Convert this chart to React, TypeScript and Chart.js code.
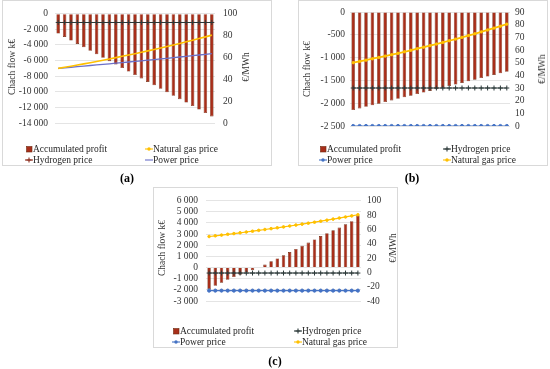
import React, { useEffect, useRef } from 'react';
import { Chart, registerables } from 'chart.js';

Chart.register(...registerables);

// ---------- data ----------
const years = ['2026', '2027', '2028', '2029', '2030', '2031', '2032', '2033', '2034', '2035', '2036', '2037', '2038', '2039', '2040', '2041', '2042', '2043', '2044', '2045', '2046', '2047', '2048', '2049', '2050'];

const profitA = [-2540, -2980, -3430, -3870, -4310, -4750, -5200, -5640, -6080, -6520, -6970, -7410, -7850, -8290, -8740, -9180, -9620, -10060, -10510, -10950, -11390, -11830, -12280, -12720, -13160];
const gasA = [50, 51, 52, 53.1, 54.1, 55.2, 56.3, 57.4, 58.6, 59.8, 61, 62.2, 63.4, 64.7, 66, 67.3, 68.6, 70, 71.4, 72.8, 74.3, 75.8, 77.3, 78.8, 80.4];
const hydrogenA = [92, 92, 92, 92, 92, 92, 92, 92, 92, 92, 92, 92, 92, 92, 92, 92, 92, 92, 92, 92, 92, 92, 92, 92, 92];
const powerA = [50, 50.5, 51, 51.5, 52, 52.6, 53.1, 53.6, 54.1, 54.7, 55.2, 55.8, 56.3, 56.9, 57.5, 58, 58.6, 59.2, 59.8, 60.4, 61, 61.6, 62.2, 62.8, 63.5];

const profitB = [-2150, -2115, -2080, -2045, -2010, -1975, -1940, -1905, -1870, -1835, -1800, -1765, -1730, -1695, -1660, -1625, -1590, -1555, -1520, -1485, -1450, -1415, -1380, -1345, -1310];
const hydrogenB = [30, 30, 30, 30, 30, 30, 30, 30, 30, 30, 30, 30, 30, 30, 30, 30, 30, 30, 30, 30, 30, 30, 30, 30, 30];
const powerB = [0, 0, 0, 0, 0, 0, 0, 0, 0, 0, 0, 0, 0, 0, 0, 0, 0, 0, 0, 0, 0, 0, 0, 0, 0];
const gasB = [50, 51, 52, 53.1, 54.1, 55.2, 56.3, 57.4, 58.6, 59.8, 61, 62.2, 63.4, 64.7, 66, 67.3, 68.6, 70, 71.4, 72.8, 74.3, 75.8, 77.3, 78.8, 80.4];

const profitC = [-1920, -1640, -1360, -1100, -850, -640, -440, -230, -30, 270, 560, 820, 1100, 1390, 1670, 1950, 2240, 2520, 2830, 3090, 3340, 3590, 3880, 4160, 4700];
const hydrogenC = [-1, -1, -1, -1, -1, -1, -1, -1, -1, -1, -1, -1, -1, -1, -1, -1, -1, -1, -1, -1, -1, -1, -1, -1, -1];
const powerC = [-25.5, -25.5, -25.5, -25.5, -25.5, -25.5, -25.5, -25.5, -25.5, -25.5, -25.5, -25.5, -25.5, -25.5, -25.5, -25.5, -25.5, -25.5, -25.5, -25.5, -25.5, -25.5, -25.5, -25.5, -25.5];
const gasC = [50, 51, 52, 53.1, 54.1, 55.2, 56.3, 57.4, 58.6, 59.8, 61, 62.2, 63.4, 64.7, 66, 67.3, 68.6, 70, 71.4, 72.8, 74.3, 75.8, 77.3, 78.8, 80.4];

// ---------- styles ----------
const FONT = "'Liberation Serif', 'Times New Roman', serif";
const BAR_FILL = '#A82E1A';
const BAR_EDGE = '#6E2A10';
const GAS = '#FFC000';
const H2 = '#2B3838';
const POWER = '#4472C4';
const POWER_A = '#6B70C9';
const TICK = '#333333';

function fmt(v: number): string {
  const s = Math.abs(Math.round(v)).toString().replace(/\B(?=(\d{3})+(?!\d))/g, ' ');
  return (v < 0 ? '-' : '') + s;
}

type PanelGeom = {
  left: number; top: number; w: number; h: number;
  plotLeft: number; plotRight: number; plotTop: number; plotBottom: number;
  yMin: number; yMax: number; yStep: number;
  y1Min: number; y1Max: number; y1Step: number;
  padL: number; padR: number;
};

const geomA: PanelGeom = { left: 2, top: 0, w: 270, h: 166, plotLeft: 53, plotRight: 213, plotTop: 12, plotBottom: 123, yMin: -14000, yMax: 0, yStep: 2000, y1Min: 0, y1Max: 100, y1Step: 20, padL: 7, padR: 8 };
const geomB: PanelGeom = { left: 298, top: 0, w: 250, h: 166, plotLeft: 52, plotRight: 212, plotTop: 12, plotBottom: 126, yMin: -2500, yMax: 0, yStep: 500, y1Min: 0, y1Max: 90, y1Step: 10, padL: 5, padR: 5 };
const geomC: PanelGeom = { left: 153, top: 187, w: 245, h: 161, plotLeft: 53, plotRight: 208, plotTop: 8, plotBottom: 114, yMin: -3000, yMax: 6000, yStep: 1000, y1Min: -40, y1Max: 100, y1Step: 20, padL: 8, padR: 6 };

function barSet(data: number[]) {
  return { type: 'bar' as const, label: 'Accumulated profit', data, yAxisID: 'y', backgroundColor: BAR_FILL, borderColor: BAR_EDGE, borderWidth: 0.6, barPercentage: 0.55, categoryPercentage: 1, order: 3 };
}
function lineSet(label: string, data: number[], color: string, style: string, radius: number, width: number) {
  return {
    type: 'line' as const, label, data, yAxisID: 'y1', borderColor: color, backgroundColor: color,
    borderWidth: width, pointStyle: style, pointRadius: radius, pointBorderWidth: 1,
    pointBorderColor: color, pointBackgroundColor: color, order: 1, tension: 0,
  };
}

function build(canvas: HTMLCanvasElement, g: PanelGeom, datasets: any[]) {
  const tickFont = { family: FONT, size: 9.5 };
  return new Chart(canvas, {
    type: 'bar',
    data: { labels: years, datasets },
    options: {
      animation: false,
      responsive: false,
      maintainAspectRatio: false,
      devicePixelRatio: 1,
      layout: { padding: { left: 0, right: 0, top: g.plotTop, bottom: g.h - g.plotBottom } },
      plugins: { legend: { display: false }, tooltip: { enabled: false } },
      scales: {
        x: { display: false, offset: true, grid: { display: false } },
        y: {
          position: 'left', min: g.yMin, max: g.yMax,
          ticks: { stepSize: g.yStep, autoSkip: false, callback: (v: any) => fmt(Number(v)), font: tickFont, color: TICK, padding: g.padL },
          grid: { color: '#E4E4E4', drawTicks: false, lineWidth: 1 },
          border: { display: false },
          afterFit: (s: any) => { s.width = g.plotLeft; },
        },
        y1: {
          position: 'right', min: g.y1Min, max: g.y1Max,
          ticks: { stepSize: g.y1Step, autoSkip: false, callback: (v: any) => fmt(Number(v)), font: tickFont, color: TICK, padding: g.padR },
          grid: { display: false, drawTicks: false },
          border: { display: false },
          afterFit: (s: any) => { s.width = g.w - g.plotRight; },
        },
      },
    } as any,
  });
}

type LegItem = { x: number; y: number; kind: 'box' | 'line' | 'cross' | 'dot'; color: string; text: string };

const legendA: LegItem[] = [
  { x: 25, y: 149, kind: 'box', color: BAR_FILL, text: 'Accumulated profit' },
  { x: 145, y: 149, kind: 'dot', color: GAS, text: 'Natural gas price' },
  { x: 25, y: 160, kind: 'cross', color: '#8B2A1A', text: 'Hydrogen price' },
  { x: 145, y: 160, kind: 'line', color: POWER_A, text: 'Power price' },
];
const legendB: LegItem[] = [
  { x: 319, y: 148.5, kind: 'box', color: BAR_FILL, text: 'Accumulated profit' },
  { x: 443, y: 148.5, kind: 'cross', color: H2, text: 'Hydrogen price' },
  { x: 319, y: 159.5, kind: 'dot', color: POWER, text: 'Power price' },
  { x: 443, y: 159.5, kind: 'dot', color: GAS, text: 'Natural gas price' },
];
const legendC: LegItem[] = [
  { x: 172, y: 331, kind: 'box', color: BAR_FILL, text: 'Accumulated profit' },
  { x: 294, y: 331, kind: 'cross', color: H2, text: 'Hydrogen price' },
  { x: 172, y: 342, kind: 'dot', color: POWER, text: 'Power price' },
  { x: 294, y: 342, kind: 'dot', color: GAS, text: 'Natural gas price' },
];

function Marker({ kind, color }: { kind: string; color: string }) {
  return (
    <svg width={8} height={8} style={{ flex: 'none', display: 'block' }}>
      {kind === 'box' && <rect x={1.5} y={1.5} width={5.5} height={5.5} fill={color} stroke={BAR_EDGE} strokeWidth={0.6} />}
      {kind !== 'box' && <line x1={0} y1={4} x2={8} y2={4} stroke={color} strokeWidth={1.1} />}
      {kind === 'cross' && <path d="M4 1.5 V6.5 M1.5 4 H6.5" stroke={color} strokeWidth={1.1} fill="none" />}
      {kind === 'dot' && <circle cx={4} cy={4} r={1.7} fill={color} />}
    </svg>
  );
}

function Legend({ items }: { items: LegItem[] }) {
  return (
    <>
      {items.map((it, i) => (
        <div key={i} style={{ position: 'absolute', left: it.x, top: it.y - 6, height: 12, display: 'flex', alignItems: 'center', fontFamily: FONT, fontSize: 9.5, color: '#262626', whiteSpace: 'nowrap', lineHeight: '12px' }}>
          <Marker kind={it.kind} color={it.color} />
          <span>{it.text}</span>
        </div>
      ))}
    </>
  );
}

function VTitle({ x, y, text }: { x: number; y: number; text: string }) {
  return (
    <div style={{ position: 'absolute', left: x, top: y, transform: 'translate(-50%, -50%) rotate(-90deg)', fontFamily: FONT, fontSize: 9.5, color: '#333333', whiteSpace: 'nowrap', lineHeight: '10px' }}>{text}</div>
  );
}

function Caption({ x, y, text }: { x: number; y: number; text: string }) {
  return (
    <div style={{ position: 'absolute', left: x, top: y, transform: 'translate(-50%, -50%)', fontFamily: FONT, fontSize: 12, fontWeight: 'bold', color: '#000', whiteSpace: 'nowrap', lineHeight: '14px' }}>{text}</div>
  );
}

function Box({ g, canvasRef }: { g: PanelGeom; canvasRef: React.RefObject<HTMLCanvasElement | null> }) {
  return (
    <div style={{ position: 'absolute', left: g.left, top: g.top, width: g.w, height: g.h }}>
      <div style={{ position: 'absolute', left: 0, top: 0, width: g.w - 2, height: g.h - 2, border: '1px solid #D9D9D9' }} />
      <canvas ref={canvasRef as any} width={g.w} height={g.h} style={{ position: 'absolute', left: 0, top: 0, width: g.w, height: g.h }} />
    </div>
  );
}

export default function App() {
  const refA = useRef<HTMLCanvasElement | null>(null);
  const refB = useRef<HTMLCanvasElement | null>(null);
  const refC = useRef<HTMLCanvasElement | null>(null);

  useEffect(() => {
    const charts: Chart[] = [];
    if (refA.current) {
      charts.push(build(refA.current, geomA, [
        barSet(profitA),
        lineSet('Natural gas price', gasA, GAS, 'circle', 0, 1.6),
        lineSet('Hydrogen price', hydrogenA, H2, 'cross', 2.5, 1.1),
        lineSet('Power price', powerA, POWER_A, 'circle', 0, 1.3),
      ]));
    }
    if (refB.current) {
      charts.push(build(refB.current, geomB, [
        barSet(profitB),
        lineSet('Hydrogen price', hydrogenB, H2, 'cross', 2.5, 1.1),
        lineSet('Power price', powerB, POWER, 'circle', 1.6, 1.2),
        lineSet('Natural gas price', gasB, GAS, 'circle', 1.2, 1.8),
      ]));
    }
    if (refC.current) {
      charts.push(build(refC.current, geomC, [
        barSet(profitC),
        lineSet('Hydrogen price', hydrogenC, H2, 'cross', 2.5, 1.1),
        lineSet('Power price', powerC, POWER, 'circle', 1.6, 1.2),
        lineSet('Natural gas price', gasC, GAS, 'circle', 1.3, 1.2),
      ]));
    }
    return () => { charts.forEach((c) => c.destroy()); };
  }, []);

  return (
    <div style={{ position: 'absolute', left: 0, top: 0, width: 550, height: 369, background: '#fff', overflow: 'hidden' }}>
      <Box g={geomA} canvasRef={refA} />
      <Box g={geomB} canvasRef={refB} />
      <Box g={geomC} canvasRef={refC} />

      <VTitle x={12} y={67} text="Chach flow k€" />
      <VTitle x={246} y={67} text="€/MWh" />
      <VTitle x={307} y={69} text="Chach flow k€" />
      <VTitle x={542} y={69} text="€/MWh" />
      <VTitle x={162} y={248} text="Chach flow k€" />
      <VTitle x={393} y={248} text="€/MWh" />

      <Legend items={legendA} />
      <Legend items={legendB} />
      <Legend items={legendC} />

      <Caption x={127} y={178} text="(a)" />
      <Caption x={412} y={178} text="(b)" />
      <Caption x={275} y={361} text="(c)" />
    </div>
  );
}
